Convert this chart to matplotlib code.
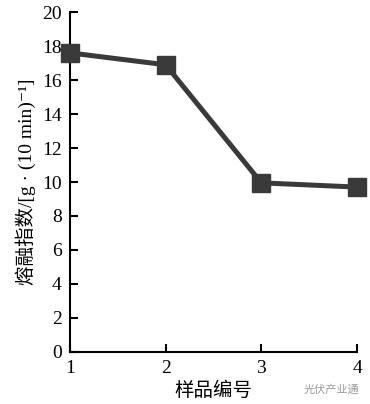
import matplotlib.pyplot as plt

# =====================================================
# DATA
# =====================================================

samples = [1, 2, 3, 4]
melt_index = [17.6, 16.9, 9.95, 9.7]

y_ticks = [0, 2, 4, 6, 8, 10, 12, 14, 16, 18, 20]

# =====================================================
# PLOT
# =====================================================

plt.rcParams["font.family"] = ["Liberation Serif", "Noto Sans CJK SC"]

fig = plt.figure(figsize=(3.70, 4.04), dpi=100)
ax = fig.add_axes([0.189, 0.129, 0.776, 0.841])

ax.plot(
    samples,
    melt_index,
    color="#3a3a3a",
    linewidth=3.6,
    marker="s",
    markersize=13,
    clip_on=False,
    zorder=3
)

ax.set_xlim(1, 4)
ax.set_ylim(0, 20)
ax.set_xticks(samples)
ax.set_yticks(y_ticks)

ax.spines["top"].set_visible(False)
ax.spines["right"].set_visible(False)
ax.spines["left"].set_linewidth(1.5)
ax.spines["bottom"].set_linewidth(1.5)

ax.tick_params(
    direction="in",
    length=6,
    width=1.5,
    labelsize=14,
    pad=6
)

ax.set_xlabel("样品编号", fontsize=14, family=["Noto Sans CJK SC"], labelpad=2)
ax.set_ylabel(
    "熔融指数/[g · (10 min)⁻¹]",
    fontsize=14,
    family=["Liberation Serif", "Noto Sans CJK SC", "DejaVu Serif"],
    labelpad=4
)

fig.text(0.97, 0.035, "光伏产业通", fontsize=8, color="#999999",
         ha="right", va="center", family=["Noto Sans CJK SC"])

fig.savefig("out.png", dpi=100)
